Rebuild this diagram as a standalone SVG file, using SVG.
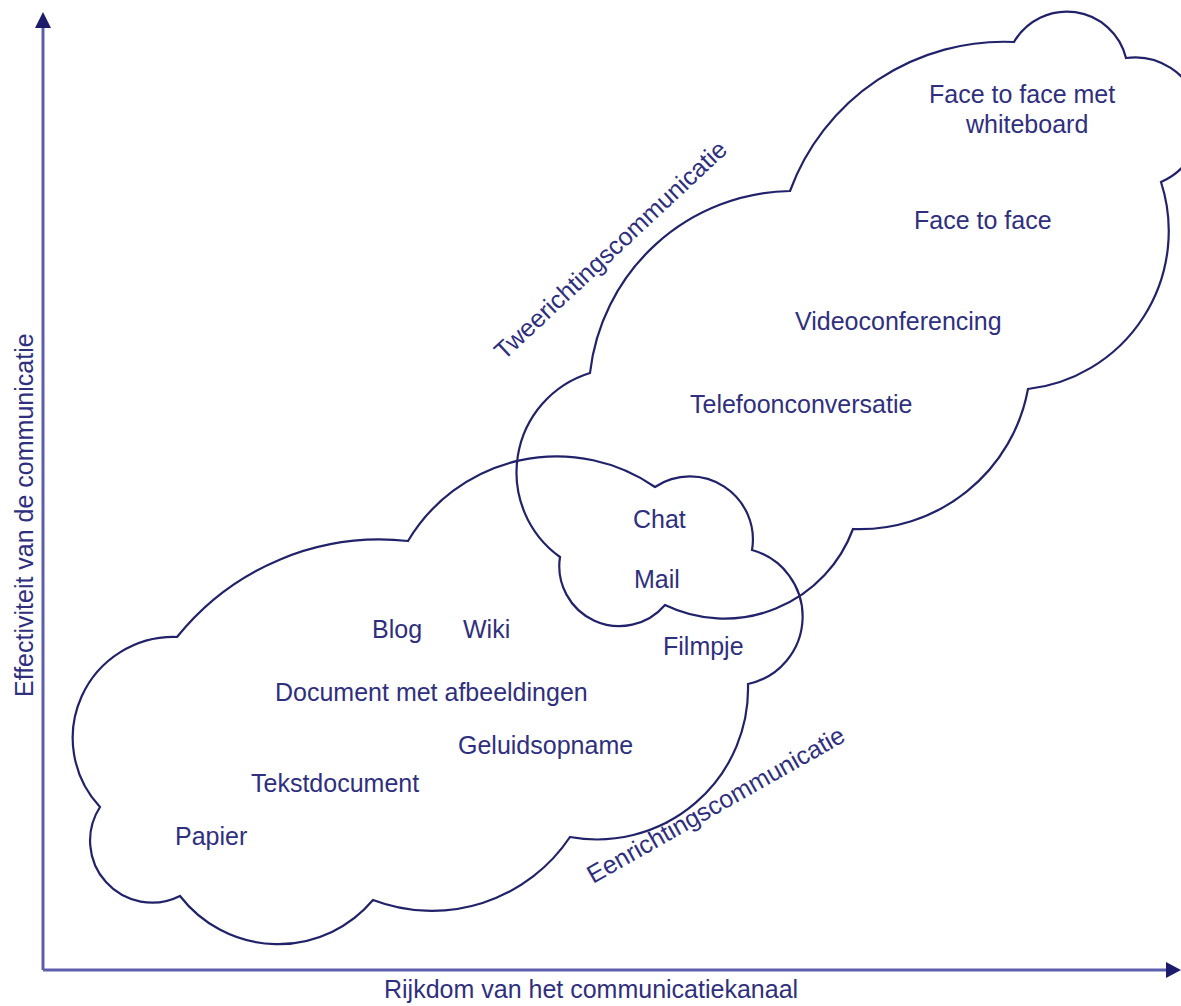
<svg xmlns="http://www.w3.org/2000/svg" width="1181" height="1006" viewBox="0 0 1181 1006">
<defs>
<style>
.cloud{fill:none;stroke:#22226a;stroke-width:2.2;stroke-linejoin:miter}
.axis{stroke:#5e5eae;stroke-width:3;fill:none}
.head{fill:#1c1c6b}
text{font-family:"Liberation Sans",Arial,sans-serif;font-size:25px;fill:#2f2f7e}
</style>
</defs>
<rect width="1181" height="1006" fill="#ffffff"/>
<g id="connectors">
<line class="axis" x1="43" y1="970" x2="43" y2="27"/>
<polygon class="head" points="43,12 35,28 51,28"/>
<line class="axis" x1="43" y1="970" x2="1167" y2="970"/>
<polygon class="head" points="1181,970 1166,962 1166,978"/>
</g>
<g id="cloud-tweerichting">
<path class="cloud" d="M590,373 A205,205 0 0 1 790,191 A228,228 0 0 1 1014,42 A61,61 0 0 1 1126,58 A65,65 0 0 1 1161,182 A159,159 0 0 1 1028,389 A171,171 0 0 1 853,529 A137,137 0 0 1 665,605 A60,60 0 0 1 560,557 A104,104 0 0 1 590,373 Z"/>
<text transform="translate(504,361) rotate(-43)">Tweerichtingscommunicatie</text>
</g>
<g id="cloud-eenrichting">
<path class="cloud" d="M408,541 A173,173 0 0 1 655,487 A63,63 0 0 1 752,550 A69,69 0 0 1 748,684 A151,151 0 0 1 570,837 A166,166 0 0 1 373,900 A124,124 0 0 1 180,896 A62,62 0 0 1 100,807 A101,101 0 0 1 177,637 A260,260 0 0 1 408,541 Z"/>
<text transform="translate(593,884) rotate(-29.5)">Eenrichtingscommunicatie</text>
</g>
<g id="axis-y-label"><text transform="translate(33,697) rotate(-90)">Effectiviteit van de communicatie</text></g>
<g id="axis-x-label"><text x="384" y="998">Rijkdom van het communicatiekanaal</text></g>
<g id="face-whiteboard"><text x="929" y="103">Face to face met</text><text x="966" y="133">whiteboard</text></g>
<g id="face-to-face"><text x="914" y="229">Face to face</text></g>
<g id="videoconferencing"><text x="795" y="330">Videoconferencing</text></g>
<g id="telefoon"><text x="690" y="413">Telefoonconversatie</text></g>
<g id="chat"><text x="633" y="528">Chat</text></g>
<g id="mail"><text x="634" y="588">Mail</text></g>
<g id="blog"><text x="372" y="638">Blog</text></g>
<g id="wiki"><text x="463" y="638">Wiki</text></g>
<g id="filmpje"><text x="663" y="655">Filmpje</text></g>
<g id="document-afbeeldingen"><text x="275" y="701">Document met afbeeldingen</text></g>
<g id="geluidsopname"><text x="458" y="754">Geluidsopname</text></g>
<g id="tekstdocument"><text x="251" y="792">Tekstdocument</text></g>
<g id="papier"><text x="175" y="845">Papier</text></g>
</svg>
